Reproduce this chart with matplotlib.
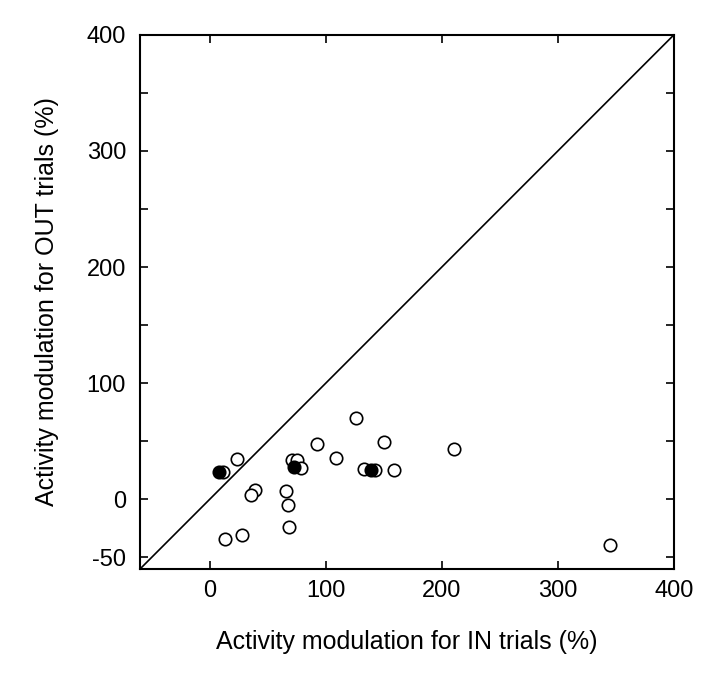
import matplotlib
matplotlib.use("Agg")
import matplotlib.pyplot as plt

plt.rcParams["font.family"] = ["Liberation Sans", "DejaVu Sans"]

# open circles: activity modulation (%) for IN vs OUT trials
in_open = [11.5, 23.9, 39.4, 35.9, 13.2, 28.2, 66.1, 67.2, 68.7, 71.0, 75.3,
           78.4, 92.5, 109.2, 126.4, 150.0, 133.0, 142.8, 158.6, 210.6, 344.8]
out_open = [23.5, 34.5, 7.8, 4.0, -34.5, -30.5, 7.2, -5.2, -24.1, 34.2, 33.6,
            27.0, 48.0, 35.9, 70.4, 49.4, 26.1, 25.0, 25.0, 43.1, -39.7]

# filled circles
in_filled = [8.0, 72.7, 138.8]
out_filled = [23.5, 27.9, 25.0]

lims = [-60, 400]
yticks = [-50, 0, 50, 100, 150, 200, 250, 300, 350, 400]
ytick_labels = ["-50", "0", "", "100", "", "200", "", "300", "", "400"]
xticks = [0, 100, 200, 300, 400]

fig = plt.figure(figsize=(7.06, 6.73), dpi=100)
ax = fig.add_axes([0.1983, 0.1545, 0.7564, 0.7939])

ax.plot(lims, lims, color="black", linewidth=1.2, zorder=1)
ax.scatter(in_open, out_open, s=80, facecolors="white", edgecolors="black",
           linewidths=1.2, zorder=2)
ax.scatter(in_filled, out_filled, s=80, facecolors="black", edgecolors="black",
           linewidths=1.2, zorder=3)

ax.set_xlim(lims)
ax.set_ylim(lims)
ax.set_xticks(xticks)
ax.set_yticks(yticks)
ax.set_yticklabels(ytick_labels)
ax.tick_params(direction="in", top=True, right=True, length=6, width=1.2,
               labelsize=17)
ax.tick_params(axis="x", pad=8)
ax.tick_params(axis="y", pad=10)
for spine in ax.spines.values():
    spine.set_linewidth(1.5)

ax.set_xlabel("Activity modulation for IN trials (%)", fontsize=18, labelpad=20)
ax.set_ylabel("Activity modulation for OUT trials (%)", fontsize=18, labelpad=20)

fig.savefig("out.png", dpi=100)
